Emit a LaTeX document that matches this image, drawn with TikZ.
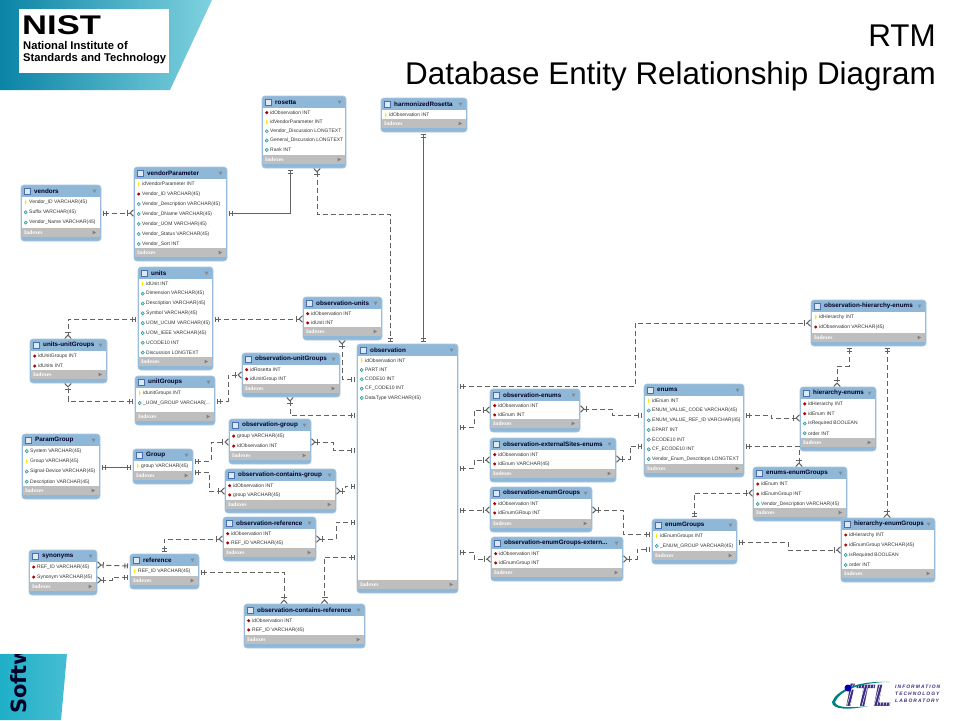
\documentclass[tikz,border=0pt]{standalone}
\usepackage{fontspec}
\setmainfont{Liberation Sans}
\newfontfamily\idxfont{Liberation Serif}
\newfontfamily\softfont{DejaVu Sans}
\newfontfamily\itlfont[LetterSpace=22]{Liberation Sans}
\usepackage{xcolor}
\usetikzlibrary{arrows.meta,positioning,calc}
\definecolor{hdrblue}{HTML}{8FB8D8}
\definecolor{edgeblue}{HTML}{A9C6DC}
\definecolor{bandgray}{HTML}{BEBEBE}
\definecolor{linegray}{HTML}{626262}
\definecolor{tealdark}{HTML}{0B84A6}
\definecolor{tealmid}{HTML}{1FAFC8}
\definecolor{teallight}{HTML}{7FD2DF}
\definecolor{itlpurple}{HTML}{3B2E82}
\definecolor{iconblue}{HTML}{4A6FB0}
\newcommand{\cutoff}{...}
% name, x0, y0, x1, y1, row pitch, title, rows
\newcommand{\dbtable}[8]{
    \node[tablebox, minimum width=(#4-#2)*1pt, minimum height=(#5-#3)*1pt] (#1) at ({(#2+#4)/2},{(#3+#5)/2}) {};
    \fill[white] (#2+.8,#3+12) rectangle (#4-.8,#5-13);
    \fill[bandgray] (#2+.8,#5-13) rectangle (#4-.8,#5-4);
    \draw[fill=white!70!hdrblue, draw=iconblue, line width=.6pt] (#2+3.5,#3+3) rectangle (#2+9.5,#3+9);
    \node[tabletitle] (#1-title) at (#2+13,#3+6.2) {#7};
    \fill[gray!80!hdrblue] (#4-8.5,#3+4.5) -- (#4-4.5,#3+4.5) -- (#4-6.5,#3+8) -- cycle;
    \node[idxlabel] (#1-idx) at (#2+3,#5-8.5) {Indexes};
    \fill[gray] (#4-8.5,#5-10.5) -- (#4-5,#5-8.5) -- (#4-8.5,#5-6.5) -- cycle;
    \foreach \kind/\txt [count=\i] in {#8} {
        \pgfmathsetmacro{\rowy}{#3+12+#6*(\i-.5)}
        \node[rowlabel] (#1-\i) at (#2+8,\rowy) {\txt};
        \path[shift={(#2+4.7,\rowy)}, \kind icon] (-1.7,0) -- (0,-1.7) -- (1.7,0) -- (0,1.7) -- cycle;
    }
}
\begin{document}
\begin{tikzpicture}[x=1pt, y=-1pt,
    tablebox/.style={draw=edgeblue, fill=hdrblue, rounded corners=3pt, line width=.6pt, inner sep=0pt, outer sep=0pt},
    tabletitle/.style={anchor=west, inner sep=0pt, font=\fontsize{6.3}{7}\selectfont\bfseries, text=black!85!blue},
    rowlabel/.style={anchor=west, inner sep=0pt, font=\fontsize{5}{6}\selectfont, text=black!80},
    idxlabel/.style={anchor=west, inner sep=0pt, font=\fontsize{5.6}{6}\selectfont\idxfont\bfseries, text=white},
    keyicon/.style={fill=yellow!90!orange, xscale=.55, yscale=1.5},
    fkicon/.style={fill=red!70!black},
    aticon/.style={fill=teallight!60!white, draw=teal, line width=.35pt},
    onetip/.tip={Bar[width=5pt,sep=1.6pt]Bar[width=5pt]},
    manytip/.tip={Bar[width=6pt,sep=1pt]Straight Barb[reversed,length=3.5pt,width=6.5pt]},
    erline/.style={draw=linegray, line width=1pt},
    erdash/.style={erline, dash pattern=on 5pt off 3pt},
    o2m/.style={{onetip}-{manytip}, shorten <=2pt},
    m2o/.style={{manytip}-{onetip}, shorten >=2pt},
    o2o/.style={{onetip}-{onetip}, shorten <=2pt, shorten >=2pt}]
    \useasboundingbox (0,0) rectangle (960,720);
    \fill[white] (0,0) rectangle (960,720);

    % banners
    \path[left color=tealdark, middle color=tealmid, right color=teallight] (0,0) -- (212,0) -- (170,90) -- (0,90) -- cycle;
    \fill[white] (19,9) rectangle (169,73);
    \node[anchor=west, inner sep=0pt, font=\fontsize{27}{27}\selectfont\bfseries] (nistmark) at (22,25) {\scalebox{1.28}[1]{NIST}};
    \node[anchor=north west, inner sep=0pt, align=left, font=\fontsize{11.2}{12.6}\selectfont\bfseries] (nistname) at (23,41) {National Institute of\\Standards and Technology};
    \node[anchor=north east, inner sep=0pt, align=right, font=\fontsize{31.4}{38}\selectfont] (slidetitle) at (936,25) {RTM\\Database Entity Relationship Diagram};
    \begin{scope}
        \clip (0,654) -- (67,654) -- (61,720) -- (0,720) -- cycle;
        \path[left color=tealmid, right color=tealmid!60!teallight] (0,654) rectangle (67,720);
        \node[anchor=west, rotate=90, inner sep=0pt, font=\fontsize{21}{21}\selectfont\softfont\bfseries, text=black!85!blue] (softword) at (19,714) {Softw};
    \end{scope}

    % ITL logo
    \node[inner sep=0pt, font=\fontsize{31}{31}\selectfont\bfseries\itshape, text=itlpurple] (itlmark) at (869,695) {iTL};
    \foreach \k in {846,849,...,892}
        \draw[white, line width=.5pt] (\k,709) -- (\k+8,681);
    \fill[teal] (832,702) .. controls (836,690) and (860,680) .. (890,682) .. controls (862,682) and (840,690) .. (835,702) .. controls (836,708) and (850,708) .. (868,706) .. controls (850,710) and (832,710) .. (832,702) -- cycle;
    \fill[blue!70!black] (848,688) circle (3.5);
    \node[anchor=north west, inner sep=0pt, align=left, font=\fontsize{4.9}{7.4}\selectfont\itlfont\bfseries\itshape, text=itlpurple] (itlname) at (895,684.5) {INFORMATION\\TECHNOLOGY\\LABORATORY};

    % tables
    \dbtable{vendors}{21}{185}{101}{241}{10.2}{vendors}{key/Vendor\_ID VARCHAR(45),at/Suffix VARCHAR(45),at/Vendor\_Name VARCHAR(45)}
    \dbtable{vendorParameter}{134}{167}{227}{261}{10}{vendorParameter}{key/idVendorParameter INT,fk/Vendor\_ID VARCHAR(45),at/Vendor\_Description VARCHAR(45),at/Vendor\_DName VARCHAR(45),at/Vendor\_UOM VARCHAR(45),at/Vendor\_Status VARCHAR(45),at/Vendor\_Sort INT}
    \dbtable{rosetta}{262}{96}{346}{168}{9.3}{rosetta}{fk/idObservation INT,key/idVendorParameter INT,at/Vendor\_Discussion LONGTEXT,at/General\_Discussion LONGTEXT,at/Rank INT}
    \dbtable{harmonizedRosetta}{381}{98}{467}{132}{10}{harmonizedRosetta}{key/idObservation INT}
    \dbtable{observation-units}{303}{297}{382}{340}{9.3}{observation-units}{fk/idObservation INT,fk/idUnit INT}
    \dbtable{observation}{357}{344}{458}{593}{9.3}{observation}{key/idObservation INT,at/PART INT,at/CODE10 INT,at/CF\_CODE10 INT,at/DataType VARCHAR(45)}
    \dbtable{units}{138}{267}{213}{370}{9.8}{units}{key/idUnit INT,at/Dimension VARCHAR(45),at/Description VARCHAR(45),at/Symbol VARCHAR(45),at/UOM\_UCUM VARCHAR(45),at/UOM\_IEEE VARCHAR(45),at/UCODE10 INT,at/Discussion LONGTEXT}
    \dbtable{units-unitGroups}{30}{339}{107}{383}{10}{units-unitGroups}{fk/idUnitGroups INT,fk/idUnits INT}
    \dbtable{unitGroups}{135}{376}{215}{425}{10}{unitGroups}{key/idunitGroups INT,at/\_UOM\_GROUP VARCHAR(\cutoff}
    \dbtable{ParamGroup}{22}{434}{100}{499}{10.2}{ParamGroup}{at/System VARCHAR(45),key/Group VARCHAR(45),at/Signal-Device VARCHAR(45),at/Description VARCHAR(45)}
    \dbtable{Group}{133}{449}{193}{484}{10}{Group}{key/group VARCHAR(45)}
    \dbtable{observation-unitGroups}{242}{353}{340}{397}{9.3}{observation-unitGroups}{fk/idRosetta INT,fk/idUnitGroup INT}
    \dbtable{observation-group}{229}{419}{311}{464}{10}{observation-group}{fk/group VARCHAR(45),fk/idObservation INT}
    \dbtable{observation-contains-group}{225}{469}{336}{513}{9.3}{observation-contains-group}{fk/idObservation INT,fk/group VARCHAR(45)}
    \dbtable{observation-reference}{223}{517}{316}{561}{9.3}{observation-reference}{fk/idObservation INT,fk/REF\_ID VARCHAR(45)}
    \dbtable{synonyms}{29}{550}{97}{595}{10}{synonyms}{fk/REF\_ID VARCHAR(45),fk/Synonym VARCHAR(45)}
    \dbtable{reference}{130}{554}{199}{589}{10}{reference}{key/REF\_ID VARCHAR(45)}
    \dbtable{observation-contains-reference}{244}{604}{365}{648}{9.3}{observation-contains-reference}{fk/idObservation INT,fk/REF\_ID VARCHAR(45)}
    \dbtable{observation-enums}{490}{389}{580}{432}{9.3}{observation-enums}{fk/idObservation INT,fk/idEnum INT}
    \dbtable{observation-externalSites-enums}{490}{438}{616}{482}{9.3}{observation-externalSites-enums}{fk/idObservation INT,fk/idEnum VARCHAR(45)}
    \dbtable{observation-enumGroups}{490}{487}{592}{532}{9.3}{observation-enumGroups}{fk/idObservation INT,fk/idEnumGRoup INT}
    \dbtable{observation-enumGroups-extern}{491}{537}{623}{581}{9.3}{observation-enumGroups-extern...}{fk/idObservation INT,fk/idEnumGroup INT}
    \dbtable{enums}{644}{384}{744}{477}{9.7}{enums}{key/idEnum INT,at/ENUM\_VALUE\_CODE VARCHAR(45),at/ENUM\_VALUE\_REF\_ID VARCHAR(45),at/EPART INT,at/ECODE10 INT,at/CF\_ECODE10 INT,at/Vendor\_Enum\_Descritopn LONGTEXT}
    \dbtable{observation-hierarchy-enums}{811}{300}{926}{346}{10}{observation-hierarchy-enums}{key/idHierarchy INT,fk/idObservation VARCHAR(45)}
    \dbtable{hierarchy-enums}{800}{387}{876}{451}{9.8}{hierarchy-enums}{fk/idHierarchy INT,fk/idEnum INT,at/isRequired BOOLEAN,at/order INT}
    \dbtable{enums-enumGroups}{753}{467}{847}{521}{10}{enums-enumGroups}{fk/idEnum INT,fk/idEnumGroup INT,at/Vendor\_Description VARCHAR(45)}
    \dbtable{enumGroups}{652}{519}{737}{564}{10}{enumGroups}{key/idEnumGroups INT,at/\_ENUM\_GROUP VARCHAR(45)}
    \dbtable{hierarchy-enumGroups}{841}{518}{935}{582}{10}{hierarchy-enumGroups}{fk/idHierarchy INT,fk/idEnumGroup VARCHAR(45),at/isRequired BOOLEAN,at/order INT}

    % left side relations
    \draw[erdash,o2m] (vendors.east |- 0,213) -- (vendorParameter.west |- 0,213);
    \draw[erline,o2o] (vendorParameter.east |- 0,213) -| (rosetta.south -| 290,0);
    \draw[erdash,m2o] (rosetta.south -| 317,0) |- (390,214) -- (observation.north -| 390,0);
    \draw[erline,o2o] (harmonizedRosetta.south -| 423,0) -- (observation.north -| 423,0);
    \draw[erdash,o2m] (units.east |- 0,319) -- (observation-units.west |- 0,319);
    \draw[erdash,o2m] (units.west |- 0,319) -| (units-unitGroups.north -| 68,0);
    \draw[erdash,o2m] (unitGroups.west |- 0,401) -| (units-unitGroups.south -| 68,0);
    \draw[erdash,o2m] (unitGroups.east |- 0,401) -| (228,375) -- (observation-unitGroups.west |- 0,375);
    \draw[erdash,m2o] (observation-units.south -| 342,0) |- (observation.west |- 0,379);
    \draw[erdash,m2o] (observation-unitGroups.south -| 290,0) |- (observation.west |- 0,415);
    \draw[erline,o2o] (ParamGroup.east |- 0,467) -- (Group.west |- 0,467);
    \draw[erdash,o2m] (Group.east |- 0,461) -| (211,442) -- (observation-group.west |- 0,442);
    \draw[erdash,o2m] (Group.east |- 0,472) -| (209,491) -- (observation-contains-group.west |- 0,491);
    \draw[erdash,m2o] (observation-group.east |- 0,442) -| (333,450) -- (observation.west |- 0,450);
    \draw[erdash,m2o] (observation-contains-group.east |- 0,491) -| (345,486) -- (observation.west |- 0,486);
    \draw[erdash,m2o] (observation-reference.east |- 0,539) -| (336,522) -- (observation.west |- 0,522);
    \draw[erdash,o2m] (reference.north -| 164,0) |- (observation-reference.west |- 0,539);
    \draw[erdash,o2m] (reference.west |- 0,566) -- (synonyms.east |- 0,565);
    \draw[erdash,o2m] (reference.west |- 0,577) -| (112,580) -- (synonyms.east |- 0,580);
    \draw[erdash,o2m] (reference.east |- 0,572) -| (observation-contains-reference.north -| 284,0);
    \draw[erdash,o2m] (observation.west |- 0,557) -| (observation-contains-reference.north -| 324.5,0);

    % right side relations
    \draw[erdash,o2m] (observation.east |- 0,386) -| (635,323) -- (observation-hierarchy-enums.west |- 0,323);
    \draw[erdash,o2m] (observation.east |- 0,427) -| (474,410) -- (observation-enums.west |- 0,410);
    \draw[erdash,o2m] (observation.east |- 0,468) -| (474,460) -- (observation-externalSites-enums.west |- 0,460);
    \draw[erdash,o2m] (observation.east |- 0,510) -- (observation-enumGroups.west |- 0,510);
    \draw[erdash,o2m] (observation.east |- 0,552) -| (474,559) -- (observation-enumGroups-extern.west |- 0,559);
    \draw[erdash,m2o] (observation-enums.east |- 0,409) -| (612,415) -- (enums.west |- 0,415);
    \draw[erdash,m2o] (observation-externalSites-enums.east |- 0,459) -| (630,446) -- (enums.west |- 0,446);
    \draw[erdash,m2o] (observation-enumGroups.east |- 0,510) -| (623,534) -- (enumGroups.west |- 0,534);
    \draw[erdash,m2o] (observation-enumGroups-extern.east |- 0,559) -| (637,549) -- (enumGroups.west |- 0,549);
    \draw[erdash,o2m] (enums.east |- 0,415) -| (771,418) -- (hierarchy-enums.west |- 0,418);
    \draw[erdash,o2m] (enums.east |- 0,446) -| (enums-enumGroups.north -| 799,0);
    \draw[erdash,o2m] (observation-hierarchy-enums.south -| 849,0) |- (837,366) -- (hierarchy-enums.north -| 837,0);
    \draw[erdash,o2m] (observation-hierarchy-enums.south -| 887,0) -- (hierarchy-enumGroups.north -| 887,0);
    \draw[erdash,o2m] (enumGroups.north -| 694,0) |- (enums-enumGroups.west |- 0,493);
    \draw[erdash,o2m] (enumGroups.east |- 0,542) -| (788,550) -- (hierarchy-enumGroups.west |- 0,550);
\end{tikzpicture}
\end{document}
